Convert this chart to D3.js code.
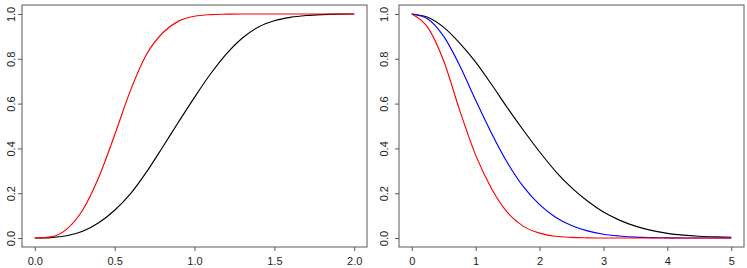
<!DOCTYPE html>
<html>
<head>
<meta charset="utf-8">
<script src="https://cdn.jsdelivr.net/npm/d3@7"></script>
<style>
  body { margin: 0; background: #fff; }
  svg text { font-family: "Liberation Sans", Arial, sans-serif; font-size: 11px; fill: #222; }
</style>
</head>
<body>
<div class="container"></div>
<script>
// values
var leftX = [0, 0.1, 0.2, 0.3, 0.4, 0.5, 0.6, 0.7, 0.8, 0.9, 1.0, 1.1, 1.2, 1.3, 1.4, 1.5, 1.6, 1.7, 1.8, 1.9, 2.0];
var leftBlack = [0, 0.002, 0.01, 0.03, 0.068, 0.124, 0.198, 0.295, 0.405, 0.518, 0.628, 0.732, 0.822, 0.893, 0.942, 0.97, 0.985, 0.993, 0.997, 0.999, 1.0];
var leftRed = [0, 0.005, 0.04, 0.125, 0.27, 0.46, 0.66, 0.82, 0.915, 0.968, 0.99, 0.997, 0.999, 1.0, 1.0, 1.0, 1.0, 1.0, 1.0, 1.0, 1.0];

var rightX = [0, 0.25, 0.5, 0.75, 1.0, 1.25, 1.5, 1.75, 2.0, 2.25, 2.5, 2.75, 3.0, 3.25, 3.5, 3.75, 4.0, 4.25, 4.5, 4.75, 5.0];
var rightBlack = [1.0, 0.985, 0.94, 0.87, 0.785, 0.685, 0.58, 0.48, 0.385, 0.298, 0.225, 0.165, 0.116, 0.08, 0.053, 0.034, 0.021, 0.013, 0.008, 0.005, 0.003];
var rightBlue = [1.0, 0.978, 0.9, 0.77, 0.615, 0.467, 0.335, 0.228, 0.149, 0.093, 0.056, 0.032, 0.017, 0.009, 0.004, 0.002, 0.001, 0, 0, 0, 0];
var rightRed = [1.0, 0.94, 0.79, 0.57, 0.37, 0.22, 0.113, 0.052, 0.022, 0.008, 0.003, 0.001, 0, 0, 0, 0, 0, 0, 0, 0, 0];

var yTicks = [0, 0.2, 0.4, 0.6, 0.8, 1.0];
var leftXTicks = [0, 0.5, 1.0, 1.5, 2.0];
var rightXTicks = [0, 1, 2, 3, 4, 5];

var axisCol = "#595959";

var svg = d3.select(".container").append("svg").attr("width", 747).attr("height", 268);

// draw one panel: box, axes and the lines
function panel(box, xmax, xTicks, xFmt, xs, series) {
  var pad = xmax * 0.04;
  var x = d3.scaleLinear().domain([-pad, xmax + pad]).range([box.x0, box.x1]);
  var y = d3.scaleLinear().domain([-0.04, 1.04]).range([box.y1, box.y0]);

  var g = svg.append("g");

  var line = d3.line()
    .x(function(d) { return x(d[0]); })
    .y(function(d) { return y(d[1]); })
    .curve(d3.curveMonotoneX);

  series.forEach(function(s) {
    g.append("path")
      .datum(xs.map(function(v, i) { return [v, s.values[i]]; }))
      .attr("fill", "none")
      .attr("stroke", s.color)
      .attr("stroke-width", 1.15)
      .attr("d", line);
  });

  // x axis
  var xa = g.append("g").attr("transform", "translate(0," + box.y1 + ")")
    .call(d3.axisBottom(x).tickValues(xTicks).tickSize(4).tickPadding(6).tickFormat(xFmt));
  xa.select(".domain").remove();
  xa.selectAll("line").attr("stroke", axisCol);
  xa.selectAll("text").attr("fill", "#222").style("font-size", "11px").attr("font-family", null);

  // y axis, labels turned like R does
  var ya = g.append("g").attr("transform", "translate(" + box.x0 + ",0)")
    .call(d3.axisLeft(y).tickValues(yTicks).tickSize(4).tickFormat(d3.format(".1f")));
  ya.select(".domain").remove();
  ya.selectAll("line").attr("stroke", axisCol);
  ya.selectAll("text")
    .attr("x", null).attr("dy", null)
    .attr("text-anchor", "middle")
    .attr("transform", "translate(" + (box.labelX - box.x0) + ",0) rotate(-90)")
    .attr("fill", "#222").style("font-size", "11px").attr("font-family", null);

  g.append("rect")
    .attr("x", box.x0).attr("y", box.y0)
    .attr("width", box.x1 - box.x0).attr("height", box.y1 - box.y0)
    .attr("fill", "none").attr("stroke", axisCol).attr("stroke-width", 1);
}

panel({ x0: 22, x1: 367, y0: 5, y1: 247, labelX: 15 }, 2, leftXTicks, d3.format(".1f"), leftX,
  [{ values: leftBlack, color: "#000" }, { values: leftRed, color: "#ff0000" }]);

panel({ x0: 399, x1: 744, y0: 5, y1: 247, labelX: 388 }, 5, rightXTicks, d3.format("d"), rightX,
  [{ values: rightBlack, color: "#000" }, { values: rightBlue, color: "#0000ff" }, { values: rightRed, color: "#ff0000" }]);
</script>
</body>
</html>
